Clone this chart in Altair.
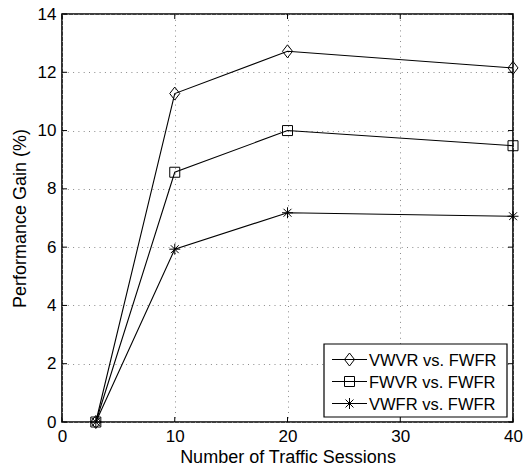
import altair as alt
import pandas as pd

# ---- data ----
sessions = [3, 10, 20, 40]
vwvr_vs_fwfr = [0.0, 11.27, 12.72, 12.15]
fwvr_vs_fwfr = [0.0, 8.57, 10.0, 9.48]
vwfr_vs_fwfr = [0.0, 5.93, 7.18, 7.06]
series_names = ["VWVR vs. FWFR", "FWVR vs. FWFR", "VWFR vs. FWFR"]
x_ticks = [0, 10, 20, 30, 40]
y_ticks = [0, 2, 4, 6, 8, 10, 12, 14]

FONT = "Liberation Sans"
W, H = 451, 408

DIAMOND = "M-0.77,0L0,-1L0.77,0L0,1Z"
ASTER = "M0,-1L0,1M-1,0L1,0M-0.72,-0.72L0.72,0.72M-0.72,0.72L0.72,-0.72"
shapes = [DIAMOND, "square", ASTER]
sizes = [169, 100, 121]

xs = alt.Scale(domain=[0, 40], nice=False, zero=False)
ys = alt.Scale(domain=[0, 14], nice=False, zero=False)

grid_style = dict(grid=True, gridDash=[1, 4.3], gridColor="#8a8a8a", gridWidth=1)
x_axis = alt.Axis(values=x_ticks, title="Number of Traffic Sessions", **grid_style,
                  domain=False, ticks=False, labelPadding=6, labelFontSize=17,
                  labelFont=FONT, labelColor="black", titleFont=FONT, titleFontSize=18,
                  titleFontWeight="normal", titleColor="black", titlePadding=4,
                  labelFlush=False)
y_axis = alt.Axis(values=y_ticks, title="Performance Gain (%)", **grid_style,
                  domain=False, ticks=False, labelPadding=6, labelFontSize=17,
                  labelFont=FONT, labelColor="black", titleFont=FONT, titleFontSize=18,
                  titleFontWeight="normal", titleColor="black", titlePadding=8,
                  labelFlush=False)

rows = []
for name, vals in zip(series_names, [vwvr_vs_fwfr, fwvr_vs_fwfr, vwfr_vs_fwfr]):
    for s, v in zip(sessions, vals):
        rows.append({"series": name, "x": s, "y": v})
df = pd.DataFrame(rows)

base_axes = alt.Chart(pd.DataFrame({"x": [0], "y": [0]})).mark_point(opacity=0).encode(
    x=alt.X("x:Q", scale=xs, axis=x_axis),
    y=alt.Y("y:Q", scale=ys, axis=y_axis),
)

layers = [base_axes]
for name, shp, sz in zip(series_names, shapes, sizes):
    d = df[df.series == name]
    line = alt.Chart(d).mark_line(color="black", strokeWidth=1.1).encode(
        x=alt.X("x:Q", scale=xs), y=alt.Y("y:Q", scale=ys))
    pts = alt.Chart(d).mark_point(shape=shp, size=sz, filled=False, color="black",
                                  strokeWidth=1, opacity=1).encode(
        x=alt.X("x:Q", scale=xs), y=alt.Y("y:Q", scale=ys))
    layers += [line, pts]

# inner ticks (Matlab style) on all four sides
xt = pd.DataFrame({"x": x_ticks})
yt = pd.DataFrame({"y": y_ticks})
tk = dict(color="black", strokeWidth=1)
layers.append(alt.Chart(xt).mark_rule(**tk).encode(x=alt.X("x:Q", scale=xs), y=alt.value(H), y2=alt.value(H - 5)))
layers.append(alt.Chart(xt).mark_rule(**tk).encode(x=alt.X("x:Q", scale=xs), y=alt.value(0), y2=alt.value(5)))
layers.append(alt.Chart(yt).mark_rule(**tk).encode(y=alt.Y("y:Q", scale=ys), x=alt.value(0), x2=alt.value(5)))
layers.append(alt.Chart(yt).mark_rule(**tk).encode(y=alt.Y("y:Q", scale=ys), x=alt.value(W), x2=alt.value(W - 5)))

# legend box
one = pd.DataFrame({"a": [0]})
layers.append(alt.Chart(one).mark_rect(fill="white", stroke="black", strokeWidth=1.2).encode(
    x=alt.value(262), x2=alt.value(445), y=alt.value(330), y2=alt.value(403)))
ly = [345.5, 367.5, 389.5]
for name, shp, sz, yy in zip(series_names, shapes, sizes, ly):
    ld = pd.DataFrame({"label": [name]})
    layers.append(alt.Chart(ld).mark_rule(color="black", strokeWidth=1.1).encode(
        x=alt.value(270), x2=alt.value(305), y=alt.value(yy)))
    layers.append(alt.Chart(ld).mark_point(shape=shp, size=sz, filled=False, color="black",
                                           strokeWidth=1, opacity=1).encode(
        x=alt.value(287.5), y=alt.value(yy)))
    layers.append(alt.Chart(ld).mark_text(align="left", baseline="middle", font=FONT,
                                          fontSize=16.5, color="black").encode(
        x=alt.value(307), y=alt.value(yy + 1), text="label:N"))

chart = alt.layer(*layers).properties(
    width=W, height=H,
    autosize=alt.AutoSizeParams(type="none"),
    padding={"left": 62, "top": 14, "right": 11, "bottom": 51},
    background="white",
).configure_view(stroke="black", strokeWidth=1.6)

chart.save("out.html", embed_options={"renderer": "svg", "actions": False})
